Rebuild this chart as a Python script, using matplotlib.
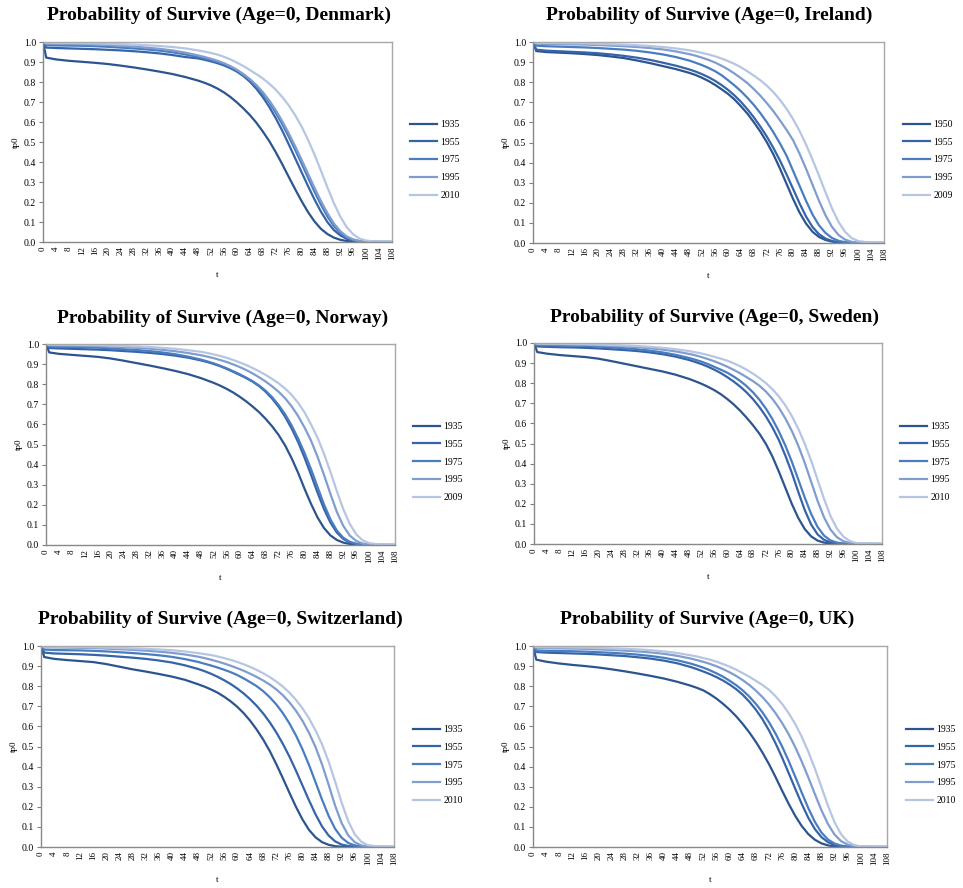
import matplotlib
matplotlib.use("Agg")
import matplotlib.pyplot as plt

plt.rcParams['font.family'] = ['Liberation Serif', 'DejaVu Serif']

ages = [0, 1, 4, 8, 12, 16, 20, 24, 28, 32, 36, 40, 44,
        48, 50, 52, 54, 56, 58, 60, 62, 64, 66, 68, 70, 72, 74, 76, 78,
        80, 82, 84, 86, 88, 90, 92, 94, 96, 98, 100, 104, 108]
x_tick_values = list(range(0, 109, 4))
x_tick_labels = [str(v) for v in x_tick_values]
y_ticks = [0.0, 0.1, 0.2, 0.3, 0.4, 0.5, 0.6, 0.7, 0.8, 0.9, 1.0]

# ---- Denmark ----
denmark_years = ['1935', '1955', '1975', '1995', '2010']
denmark_1935 = [1, 0.922, 0.913, 0.906, 0.901, 0.896, 0.89, 0.882, 0.873, 0.863, 0.852, 0.84, 0.825,
                0.807, 0.796, 0.783, 0.767, 0.748, 0.725, 0.698, 0.668, 0.635, 0.597, 0.553, 0.505, 0.45, 0.39, 0.327, 0.265, 0.205, 0.15, 0.103, 0.066, 0.04, 0.022, 0.011, 0.005, 0.002, 0.0007, 0.0002,
                0, 0]
denmark_1955 = [1, 0.972, 0.97, 0.968, 0.966, 0.964, 0.961, 0.958, 0.954, 0.949, 0.943, 0.935, 0.925,
                0.918, 0.911, 0.903, 0.894, 0.883, 0.869, 0.852, 0.83, 0.802, 0.767, 0.725, 0.676, 0.62, 0.558, 0.49, 0.42, 0.35, 0.28, 0.213, 0.152, 0.1, 0.06, 0.033, 0.016, 0.007, 0.003, 0.001,
                0, 0]
denmark_1975 = [1, 0.985, 0.983, 0.982, 0.981, 0.979, 0.976, 0.972, 0.968, 0.963, 0.957, 0.949, 0.938,
                0.925, 0.917, 0.909, 0.9, 0.889, 0.875, 0.858, 0.836, 0.81, 0.779, 0.742, 0.698, 0.647, 0.59, 0.528, 0.462, 0.393, 0.322, 0.252, 0.187, 0.128, 0.08, 0.045, 0.022, 0.01, 0.004, 0.0015,
                0.0002, 0]
denmark_1995 = [1, 0.992, 0.991, 0.99, 0.989, 0.988, 0.985, 0.981, 0.977, 0.972, 0.966, 0.958, 0.947,
                0.933, 0.925, 0.916, 0.906, 0.894, 0.879, 0.861, 0.84, 0.815, 0.785, 0.75, 0.708, 0.66, 0.605, 0.545, 0.48, 0.412, 0.342, 0.272, 0.205, 0.145, 0.093, 0.054, 0.028, 0.013, 0.005, 0.002,
                0.0003, 0]
denmark_2010 = [1, 0.996, 0.995, 0.995, 0.994, 0.993, 0.991, 0.989, 0.987, 0.984, 0.98, 0.975, 0.968,
                0.958, 0.952, 0.945, 0.937, 0.926, 0.913, 0.897, 0.88, 0.86, 0.84, 0.818, 0.792, 0.762, 0.726, 0.684, 0.635, 0.578, 0.512, 0.438, 0.357, 0.274, 0.195, 0.127, 0.074, 0.038, 0.017, 0.007,
                0.0006, 0]

# ---- Ireland ----
ireland_years = ['1950', '1955', '1975', '1995', '2009']
ireland_1950 = [1, 0.955, 0.95, 0.947, 0.944, 0.94, 0.935, 0.928, 0.92, 0.908, 0.895, 0.88, 0.865,
                0.847, 0.836, 0.822, 0.806, 0.787, 0.765, 0.742, 0.714, 0.68, 0.643, 0.60, 0.553, 0.50, 0.44, 0.37, 0.295, 0.22, 0.152, 0.097, 0.056, 0.03, 0.015, 0.007, 0.003, 0.001, 0.0003, 0,
                0, 0]
ireland_1955 = [1, 0.962, 0.957, 0.954, 0.951, 0.948, 0.944, 0.938, 0.931, 0.922, 0.911, 0.897, 0.882,
                0.864, 0.853, 0.84, 0.825, 0.807, 0.786, 0.762, 0.734, 0.702, 0.665, 0.624, 0.578, 0.528, 0.472, 0.41, 0.342, 0.27, 0.198, 0.132, 0.08, 0.044, 0.022, 0.01, 0.004, 0.0015, 0.0005, 0.0001,
                0, 0]
ireland_1975 = [1, 0.982, 0.979, 0.977, 0.975, 0.973, 0.97, 0.966, 0.962, 0.956, 0.948, 0.938, 0.925,
                0.908, 0.897, 0.885, 0.871, 0.855, 0.835, 0.81, 0.784, 0.755, 0.722, 0.686, 0.645, 0.6, 0.55, 0.495, 0.435, 0.36, 0.285, 0.21, 0.142, 0.088, 0.05, 0.025, 0.011, 0.004, 0.0015, 0.0005,
                0, 0]
ireland_1995 = [1, 0.992, 0.99, 0.989, 0.988, 0.987, 0.985, 0.982, 0.979, 0.975, 0.97, 0.963, 0.953,
                0.94, 0.932, 0.922, 0.911, 0.898, 0.882, 0.864, 0.843, 0.82, 0.795, 0.765, 0.732, 0.695, 0.655, 0.61, 0.563, 0.512, 0.445, 0.37, 0.29, 0.21, 0.138, 0.08, 0.04, 0.017, 0.006, 0.002,
                0.0002, 0]
ireland_2009 = [1, 0.996, 0.995, 0.995, 0.994, 0.993, 0.991, 0.989, 0.987, 0.984, 0.98, 0.975, 0.968,
                0.959, 0.953, 0.946, 0.938, 0.929, 0.918, 0.905, 0.891, 0.874, 0.854, 0.832, 0.809, 0.782, 0.75, 0.712, 0.668, 0.617, 0.558, 0.49, 0.415, 0.335, 0.252, 0.172, 0.105, 0.056, 0.025, 0.01,
                0.001, 0]

# ---- Norway ----
norway_years = ['1935', '1955', '1975', '1995', '2009']
norway_1935 = [1, 0.958, 0.951, 0.946, 0.941, 0.936, 0.928, 0.917, 0.905, 0.893, 0.88, 0.866, 0.85,
               0.83, 0.818, 0.806, 0.792, 0.776, 0.758, 0.737, 0.714, 0.688, 0.66, 0.627, 0.59, 0.547, 0.495, 0.432, 0.36, 0.28, 0.205, 0.138, 0.085, 0.048, 0.025, 0.012, 0.005, 0.002, 0.0007, 0.0002,
               0, 0]
norway_1955 = [1, 0.98, 0.978, 0.976, 0.974, 0.972, 0.969, 0.965, 0.961, 0.956, 0.95, 0.942, 0.932,
               0.918, 0.91, 0.9, 0.889, 0.876, 0.861, 0.846, 0.83, 0.812, 0.79, 0.762, 0.728, 0.687, 0.638, 0.58, 0.513, 0.435, 0.35, 0.262, 0.18, 0.112, 0.062, 0.03, 0.013, 0.005, 0.002, 0.0006,
               0.0001, 0]
norway_1975 = [1, 0.988, 0.986, 0.985, 0.984, 0.982, 0.978, 0.974, 0.97, 0.965, 0.958, 0.949, 0.937,
               0.922, 0.913, 0.903, 0.891, 0.878, 0.864, 0.849, 0.832, 0.814, 0.793, 0.767, 0.735, 0.696, 0.65, 0.595, 0.53, 0.458, 0.378, 0.29, 0.203, 0.128, 0.072, 0.036, 0.016, 0.006, 0.002, 0.0007,
               0.0001, 0]
norway_1995 = [1, 0.994, 0.993, 0.992, 0.991, 0.99, 0.987, 0.984, 0.981, 0.977, 0.971, 0.964, 0.955,
               0.944, 0.937, 0.929, 0.92, 0.91, 0.898, 0.885, 0.87, 0.853, 0.834, 0.813, 0.789, 0.762, 0.73, 0.69, 0.642, 0.585, 0.52, 0.44, 0.35, 0.255, 0.165, 0.095, 0.047, 0.02, 0.007, 0.002,
               0.0002, 0]
norway_2009 = [1, 0.997, 0.996, 0.996, 0.995, 0.994, 0.992, 0.99, 0.988, 0.985, 0.981, 0.976, 0.969,
               0.961, 0.955, 0.948, 0.94, 0.931, 0.92, 0.908, 0.895, 0.88, 0.864, 0.846, 0.826, 0.804, 0.778, 0.747, 0.708, 0.66, 0.6, 0.535, 0.455, 0.365, 0.268, 0.178, 0.105, 0.053, 0.023, 0.009,
               0.001, 0]

# ---- Sweden ----
sweden_years = ['1935', '1955', '1975', '1995', '2010']
sweden_1935 = [1, 0.955, 0.947, 0.94, 0.935, 0.93, 0.922, 0.91, 0.897, 0.884, 0.871, 0.858, 0.842,
               0.822, 0.81, 0.797, 0.782, 0.765, 0.745, 0.721, 0.694, 0.663, 0.628, 0.59, 0.548, 0.497, 0.435, 0.36, 0.28, 0.2, 0.13, 0.075, 0.038, 0.017, 0.007, 0.002, 0.0007, 0.0002, 0, 0,
               0, 0]
sweden_1955 = [1, 0.983, 0.981, 0.979, 0.978, 0.976, 0.973, 0.969, 0.965, 0.96, 0.953, 0.944, 0.932,
               0.916, 0.906, 0.895, 0.882, 0.867, 0.85, 0.83, 0.808, 0.783, 0.754, 0.72, 0.68, 0.634, 0.58, 0.517, 0.44, 0.355, 0.26, 0.17, 0.097, 0.048, 0.021, 0.008, 0.003, 0.001, 0.0003, 0,
               0, 0]
sweden_1975 = [1, 0.99, 0.989, 0.988, 0.987, 0.985, 0.982, 0.978, 0.974, 0.969, 0.962, 0.953, 0.941,
               0.926, 0.917, 0.907, 0.895, 0.881, 0.867, 0.852, 0.833, 0.811, 0.785, 0.754, 0.717, 0.673, 0.621, 0.56, 0.49, 0.41, 0.322, 0.232, 0.15, 0.085, 0.042, 0.018, 0.007, 0.0025, 0.0008, 0.0002,
               0, 0]
sweden_1995 = [1, 0.995, 0.994, 0.993, 0.992, 0.991, 0.989, 0.986, 0.983, 0.979, 0.974, 0.967, 0.958,
               0.946, 0.939, 0.93, 0.92, 0.909, 0.896, 0.882, 0.866, 0.849, 0.83, 0.81, 0.787, 0.758, 0.722, 0.678, 0.625, 0.563, 0.49, 0.405, 0.31, 0.215, 0.133, 0.072, 0.034, 0.014, 0.005, 0.0015,
               0.0001, 0]
sweden_2010 = [1, 0.997, 0.996, 0.996, 0.995, 0.994, 0.992, 0.99, 0.988, 0.985, 0.981, 0.976, 0.969,
               0.96, 0.954, 0.948, 0.94, 0.931, 0.922, 0.912, 0.899, 0.884, 0.867, 0.847, 0.825, 0.8, 0.77, 0.734, 0.69, 0.637, 0.574, 0.5, 0.415, 0.32, 0.225, 0.14, 0.077, 0.037, 0.015, 0.005,
               0.0004, 0]

# ---- Switzerland ----
switzerland_years = ['1935', '1955', '1975', '1995', '2010']
switzerland_1935 = [1, 0.945, 0.936, 0.93, 0.925, 0.92, 0.91, 0.897, 0.884, 0.873, 0.861, 0.848, 0.832,
                    0.81, 0.798, 0.784, 0.768, 0.748, 0.725, 0.698, 0.666, 0.628, 0.584, 0.534, 0.477, 0.412, 0.342, 0.27, 0.2, 0.137, 0.085, 0.048, 0.024, 0.011, 0.004, 0.0015, 0.0005, 0.0001, 0, 0,
                    0, 0]
switzerland_1955 = [1, 0.967, 0.963, 0.961, 0.959, 0.956, 0.952, 0.947, 0.942, 0.936, 0.928, 0.918, 0.904,
                    0.886, 0.875, 0.862, 0.847, 0.83, 0.811, 0.789, 0.764, 0.735, 0.702, 0.664, 0.62, 0.57, 0.513, 0.45, 0.38, 0.306, 0.232, 0.162, 0.102, 0.057, 0.028, 0.012, 0.005, 0.0017, 0.0005, 0.0001,
                    0, 0]
switzerland_1975 = [1, 0.982, 0.98, 0.979, 0.978, 0.976, 0.973, 0.969, 0.965, 0.96, 0.954, 0.946, 0.935,
                    0.921, 0.912, 0.903, 0.893, 0.882, 0.87, 0.856, 0.839, 0.82, 0.8, 0.775, 0.745, 0.709, 0.666, 0.615, 0.555, 0.486, 0.408, 0.322, 0.235, 0.155, 0.09, 0.046, 0.02, 0.008, 0.003, 0.001,
                    0.0001, 0]
switzerland_1995 = [1, 0.994, 0.993, 0.992, 0.991, 0.99, 0.987, 0.984, 0.981, 0.977, 0.972, 0.966, 0.958,
                    0.947, 0.94, 0.932, 0.923, 0.913, 0.902, 0.89, 0.877, 0.862, 0.846, 0.828, 0.808, 0.784, 0.755, 0.72, 0.678, 0.628, 0.568, 0.497, 0.41, 0.31, 0.205, 0.118, 0.058, 0.024, 0.008, 0.0025,
                    0.0002, 0]
switzerland_2010 = [1, 0.996, 0.996, 0.995, 0.995, 0.994, 0.992, 0.99, 0.988, 0.986, 0.983, 0.979, 0.973,
                    0.965, 0.96, 0.955, 0.948, 0.94, 0.931, 0.921, 0.909, 0.896, 0.881, 0.864, 0.845, 0.823, 0.798, 0.768, 0.732, 0.69, 0.64, 0.58, 0.51, 0.425, 0.325, 0.22, 0.128, 0.063, 0.026, 0.009,
                    0.0008, 0]

# ---- UK ----
uk_years = ['1935', '1955', '1975', '1995', '2010']
uk_1935 = [1, 0.932, 0.922, 0.913, 0.906, 0.9, 0.893, 0.884, 0.874, 0.863, 0.851, 0.838, 0.822,
           0.803, 0.792, 0.779, 0.76, 0.738, 0.712, 0.683, 0.65, 0.612, 0.57, 0.523, 0.47, 0.412, 0.348, 0.28, 0.215, 0.155, 0.104, 0.064, 0.036, 0.018, 0.008, 0.003, 0.001, 0.0003, 0.0001, 0,
           0, 0]
uk_1955 = [1, 0.97, 0.967, 0.965, 0.963, 0.961, 0.958, 0.954, 0.95, 0.944, 0.937, 0.927, 0.914,
           0.896, 0.885, 0.873, 0.86, 0.845, 0.828, 0.808, 0.785, 0.757, 0.723, 0.683, 0.636, 0.58, 0.516, 0.445, 0.368, 0.29, 0.214, 0.145, 0.089, 0.049, 0.024, 0.01, 0.004, 0.0013, 0.0004, 0.0001,
           0, 0]
uk_1975 = [1, 0.978, 0.976, 0.975, 0.974, 0.972, 0.969, 0.966, 0.962, 0.957, 0.95, 0.941, 0.929,
           0.913, 0.903, 0.892, 0.879, 0.864, 0.847, 0.827, 0.805, 0.779, 0.748, 0.712, 0.67, 0.621, 0.564, 0.5, 0.428, 0.35, 0.27, 0.193, 0.125, 0.072, 0.037, 0.017, 0.007, 0.0025, 0.0008, 0.0002,
           0, 0]
uk_1995 = [1, 0.99, 0.989, 0.988, 0.987, 0.986, 0.983, 0.98, 0.977, 0.973, 0.968, 0.961, 0.951,
           0.938, 0.93, 0.921, 0.911, 0.899, 0.885, 0.869, 0.851, 0.83, 0.806, 0.778, 0.746, 0.709, 0.666, 0.617, 0.561, 0.497, 0.425, 0.346, 0.263, 0.183, 0.114, 0.062, 0.029, 0.012, 0.004, 0.0013,
           0.0001, 0]
uk_2010 = [1, 0.995, 0.994, 0.994, 0.993, 0.992, 0.99, 0.988, 0.986, 0.983, 0.979, 0.973, 0.965,
           0.954, 0.948, 0.94, 0.932, 0.922, 0.91, 0.897, 0.882, 0.865, 0.847, 0.827, 0.806, 0.782, 0.75, 0.712, 0.666, 0.612, 0.548, 0.474, 0.39, 0.298, 0.205, 0.123, 0.063, 0.027, 0.01, 0.003,
           0.0002, 0]

colors = ['#2C5590', '#3564A8', '#4A7DC0', '#809DCF', '#B6C6E2']

panels = [
    ('Denmark', denmark_years, [denmark_1935, denmark_1955, denmark_1975, denmark_1995, denmark_2010]),
    ('Ireland', ireland_years, [ireland_1950, ireland_1955, ireland_1975, ireland_1995, ireland_2009]),
    ('Norway', norway_years, [norway_1935, norway_1955, norway_1975, norway_1995, norway_2009]),
    ('Sweden', sweden_years, [sweden_1935, sweden_1955, sweden_1975, sweden_1995, sweden_2010]),
    ('Switzerland', switzerland_years, [switzerland_1935, switzerland_1955, switzerland_1975, switzerland_1995, switzerland_2010]),
    ('UK', uk_years, [uk_1935, uk_1955, uk_1975, uk_1995, uk_2010]),
]

W, H = 963, 888
fig = plt.figure(figsize=(W / 100, H / 100), dpi=100)

# pixel boxes: left, right, top, bottom ; title center x,y ; legend x, legend center y
boxes = [
    (43, 392, 42, 242, 219, 15, 410, 160),
    (533, 884, 42, 243, 709, 15, 903, 160),
    (46, 395, 344, 545, 223, 318, 413, 462),
    (534, 882, 343, 544, 714, 317, 900, 462),
    (41, 394, 646, 847, 220, 619, 413, 765),
    (533, 887, 646, 847, 707, 619, 906, 765),
]

for (name, years, series), (l, r, t, b, tx, ty, lx, ly) in zip(panels, boxes):
    ax = fig.add_axes([l / W, 1 - b / H, (r - l) / W, (b - t) / H])
    for yr, vals, c in zip(years, series, colors):
        ax.plot(ages, vals, color=c, lw=1.6, label=yr, solid_joinstyle='round')
    ax.set_xlim(0, 108)
    ax.set_ylim(0, 1.0)
    ax.set_xticks(x_tick_values)
    ax.set_xticklabels(x_tick_labels, rotation=90, fontsize=6.5)
    ax.set_yticks(y_ticks)
    ax.set_yticklabels([f'{v:.1f}' for v in y_ticks], fontsize=7)
    ax.tick_params(axis='x', length=0, pad=3)
    ax.tick_params(axis='y', length=3, width=0.8, color='#808080', pad=2)
    for s in ['left', 'bottom']:
        ax.spines[s].set_color('#888888')
        ax.spines[s].set_linewidth(1.0)
    for s in ['top', 'right']:
        ax.spines[s].set_color('#A8A8A8')
        ax.spines[s].set_linewidth(1.0)
    ax.set_ylabel('tp0', fontsize=6.5, labelpad=3)
    ax.set_xlabel('t', fontsize=6.5, labelpad=8)
    fig.text(tx / W, 1 - ty / H, f'Probability of Survive (Age=0, {name})',
             ha='center', va='center', fontsize=14, fontweight='bold')
    ax.legend(loc='center left', bbox_to_anchor=(lx / W, 1 - ly / H),
              bbox_transform=fig.transFigure, frameon=False, fontsize=7,
              handlelength=2.8, handletextpad=0.3, labelspacing=0.9,
              borderpad=0, borderaxespad=0)

fig.savefig('out.png', dpi=100)
